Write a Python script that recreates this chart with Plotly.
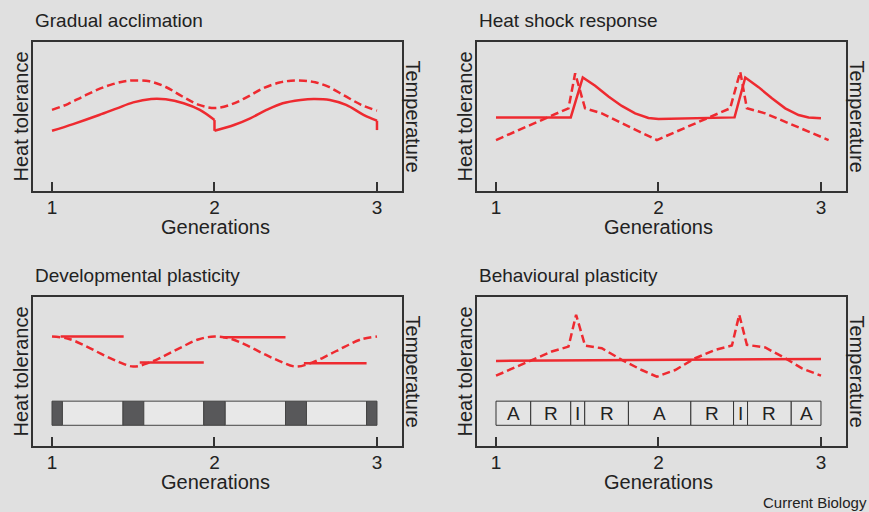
import plotly.graph_objects as go

# ---------------- data ----------------
titles = ["Gradual acclimation", "Heat shock response",
          "Developmental plasticity", "Behavioural plasticity"]
tick_vals = [1, 2, 3]
tick_text = ["1", "2", "3"]

# Panel A: gradual acclimation
a_temp_x = [1.0, 1.1, 1.19, 1.28, 1.36, 1.44, 1.5, 1.6, 1.7, 1.8, 1.9, 2.0,
            2.1, 2.2, 2.3, 2.4, 2.47, 2.55, 2.62, 2.7, 2.8, 2.9, 3.0]
a_temp_y = [5.44, 5.85, 6.34, 6.8, 7.12, 7.35, 7.42, 7.36, 6.98, 6.36, 5.8, 5.57,
            5.8, 6.3, 6.9, 7.28, 7.4, 7.4, 7.3, 7.0, 6.4, 5.8, 5.39]
# tolerance, generation 1 and generation 2 (reset at each generation)
a_tol1_x = [1.0, 1.13, 1.29, 1.4, 1.5, 1.61, 1.7, 1.81, 1.91, 2.0]
a_tol1_y = [4.04, 4.49, 5.1, 5.55, 5.95, 6.18, 6.16, 5.89, 5.44, 4.76]
a_tol2_x = [2.0, 2.12, 2.22, 2.32, 2.42, 2.53, 2.61, 2.71, 2.81, 2.92, 3.0]
a_tol2_y = [4.04, 4.43, 4.88, 5.44, 5.89, 6.11, 6.18, 6.11, 5.78, 5.1, 4.72]
a_reset_x = [2.0, 2.0, 3.0, 3.0]
a_reset_y = [4.76, 4.04, 4.72, 4.09]

# Panel B: heat shock response
b_temp_x = [1.0, 1.446, 1.487, 1.548, 1.651, 1.99, 2.441, 2.503, 2.544, 2.657, 3.047]
b_temp_y = [3.42, 5.55, 7.9, 5.55, 5.21, 3.42, 5.55, 8.0, 5.55, 5.21, 3.42]
b_tol_x = [1.0, 1.46, 1.534, 1.61, 1.692, 1.774, 1.856, 1.938, 2.0, 2.468, 2.534,
           2.616, 2.698, 2.78, 2.862, 2.924, 3.0]
b_tol_y = [4.94, 4.94, 7.62, 7.06, 6.34, 5.71, 5.21, 4.9, 4.83, 4.94, 7.62,
           6.97, 6.22, 5.55, 5.1, 4.94, 4.88]

# Panel C: developmental plasticity
c_temp_x = [1.0, 1.1, 1.2, 1.3, 1.4, 1.5, 1.6, 1.7, 1.8, 1.9, 2.0,
            2.1, 2.2, 2.3, 2.4, 2.5, 2.6, 2.7, 2.8, 2.9, 3.0]
c_temp_y = [7.35, 7.2, 6.75, 6.2, 5.7, 5.33, 5.6, 6.1, 6.65, 7.15, 7.35,
            7.2, 6.75, 6.2, 5.7, 5.33, 5.6, 6.1, 6.65, 7.15, 7.35]
c_seg_x0 = [1.053, 1.54, 2.053, 2.55]
c_seg_x1 = [1.441, 1.934, 2.437, 2.936]
c_seg_y = [7.35, 5.6, 7.3, 5.55]
c_bar_edges = [1.0, 1.064, 1.437, 1.565, 1.934, 2.066, 2.437, 2.566, 2.936, 3.0]
c_bar_dark = [True, False, True, False, True, False, True, False, True]
bar_y0, bar_y1 = 1.39, 3.01

# Panel D: behavioural plasticity
d_temp_x = [1.0, 1.1, 1.22, 1.343, 1.446, 1.493, 1.548, 1.651, 1.774, 1.897, 1.99,
            2.103, 2.226, 2.349, 2.452, 2.497, 2.544, 2.657, 2.78, 2.883, 3.0]
d_temp_y = [4.72, 5.2, 5.78, 6.34, 6.67, 8.81, 6.74, 6.56, 5.78, 5.1, 4.65,
            5.1, 5.89, 6.45, 6.74, 8.81, 6.79, 6.61, 5.89, 5.21, 4.72]
d_tol_x = [1.0, 3.0]
d_tol_y = [5.71, 5.84]
d_box_edges = [1.0, 1.2136, 1.46, 1.546, 1.815, 2.199, 2.462, 2.548, 2.817, 3.0]
d_box_labels = ["A", "R", "I", "R", "A", "R", "I", "R", "A"]

# ---------------- style ----------------
RED = "#ee2a30"
BG = "#e0e0e0"
TXT = "#222222"
FONT = "Liberation Sans, Arial, sans-serif"
LW = 2.5
DASH = "8px,4px"

fig = go.Figure()

xdom = [[33/869, 402/869], [477/869, 846/869]]
ydom = [[1-191/512, 1-42/512], [1-446/512, 1-297/512]]
panels = [(0, 0), (1, 0), (0, 1), (1, 1)]

for i, (c, r) in enumerate(panels):
    n = "" if i == 0 else str(i+1)
    fig.layout["xaxis"+n] = dict(
        domain=xdom[c], range=[0.883, 3.154], anchor="y"+n,
        showline=True, mirror=True, linecolor="#333333", linewidth=1.5,
        showgrid=False, zeroline=False,
        tickmode="array", tickvals=tick_vals, ticktext=tick_text,
        ticks="inside", ticklen=9, tickwidth=1.5, tickcolor="#333333",
        tickfont=dict(family=FONT, size=19, color=TXT),
        ticklabelstandoff=-2, fixedrange=True)
    fig.layout["yaxis"+n] = dict(
        domain=ydom[r], range=[0, 10], anchor="x"+n,
        showline=True, mirror=True, linecolor="#333333", linewidth=1.5,
        showgrid=False, zeroline=False, showticklabels=False, ticks="",
        fixedrange=True)

def line(x, y, ax, dash=None, shape="linear"):
    ln = dict(color=RED, width=LW, shape=shape)
    if dash:
        ln["dash"] = dash
    fig.add_trace(go.Scatter(
        x=x, y=y, mode="lines", xaxis="x"+ax, yaxis="y"+ax,
        line=ln, hoverinfo="skip", showlegend=False))

# Panel A
line(a_temp_x, a_temp_y, "", DASH, "spline")
line(a_tol1_x, a_tol1_y, "", shape="spline")
line(a_tol2_x, a_tol2_y, "", shape="spline")
line(a_reset_x[:2], a_reset_y[:2], "")
line(a_reset_x[2:], a_reset_y[2:], "")
# Panel B
line(b_temp_x, b_temp_y, "2", DASH)
line(b_tol_x, b_tol_y, "2")
# Panel C
line(c_temp_x, c_temp_y, "3", DASH, "spline")
for x0, x1, yv in zip(c_seg_x0, c_seg_x1, c_seg_y):
    line([x0, x1], [yv, yv], "3")
for k in range(len(c_bar_dark)):
    fig.add_shape(type="rect", xref="x3", yref="y3",
                  x0=c_bar_edges[k], x1=c_bar_edges[k+1], y0=bar_y0, y1=bar_y1,
                  fillcolor="#58585a" if c_bar_dark[k] else "#e8e8e8",
                  line=dict(color="#444444", width=1))
# Panel D
line(d_temp_x, d_temp_y, "4", DASH)
line(d_tol_x, d_tol_y, "4")
for k, lab in enumerate(d_box_labels):
    fig.add_shape(type="rect", xref="x4", yref="y4",
                  x0=d_box_edges[k], x1=d_box_edges[k+1], y0=bar_y0, y1=bar_y1,
                  fillcolor="#e4e4e4", line=dict(color="#333333", width=1))
    fig.add_annotation(x=(d_box_edges[k]+d_box_edges[k+1])/2, y=(bar_y0+bar_y1)/2,
                       xref="x4", yref="y4", text=lab, showarrow=False,
                       font=dict(family=FONT, size=19, color=TXT))

# Text annotations
for i, (c, r) in enumerate(panels):
    x0, x1 = xdom[c]
    y0, y1 = ydom[r]
    fig.add_annotation(x=x0, y=y1 + 22/512, xref="paper", yref="paper",
                       xanchor="left", yanchor="middle", text=titles[i],
                       showarrow=False, font=dict(family=FONT, size=19, color=TXT))
    fig.add_annotation(x=x0 - 13/869, y=(y0+y1)/2, xref="paper", yref="paper",
                       text="Heat tolerance", textangle=-90, showarrow=False,
                       xanchor="center", yanchor="middle",
                       font=dict(family=FONT, size=20, color=TXT))
    fig.add_annotation(x=x1 + 11/869, y=(y0+y1)/2, xref="paper", yref="paper",
                       text="Temperature", textangle=90, showarrow=False,
                       xanchor="center", yanchor="middle",
                       font=dict(family=FONT, size=20, color=TXT))
    fig.add_annotation(x=(x0 + (215-33)/869 if c == 0 else x0 + (658-477)/869),
                       y=y0 - 36/512, xref="paper", yref="paper",
                       text="Generations", showarrow=False,
                       xanchor="center", yanchor="middle",
                       font=dict(family=FONT, size=20, color=TXT))

fig.add_annotation(x=1.0, y=10/512, xref="paper", yref="paper",
                   text="Current Biology", showarrow=False,
                   xanchor="right", yanchor="middle",
                   font=dict(family=FONT, size=15, color=TXT))

fig.update_layout(width=869, height=512, margin=dict(l=0, r=0, t=0, b=0),
                  paper_bgcolor=BG, plot_bgcolor=BG, showlegend=False)

fig.write_html("out.html", config={"displayModeBar": False})
